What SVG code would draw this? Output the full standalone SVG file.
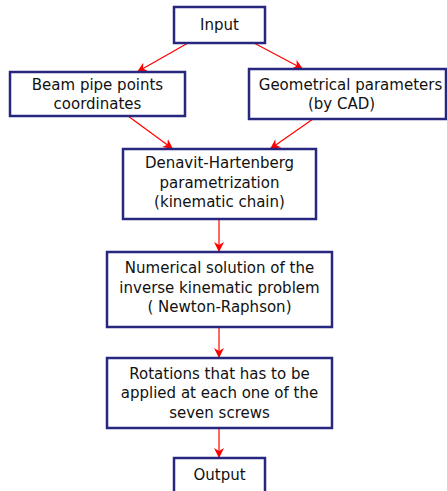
<svg xmlns="http://www.w3.org/2000/svg" width="447" height="491" viewBox="0 0 447 491">
<defs>
<style>
.box{fill:#fff;stroke:#27277f;stroke-width:2.5}
.t{font-family:"DejaVu Sans",Verdana,sans-serif;font-size:15px;fill:#111;text-anchor:middle}
.c{stroke:#ff0000;stroke-width:1.2;fill:none;marker-end:url(#ah)}
</style>
<marker id="ah" markerWidth="12" markerHeight="10" refX="10" refY="5" orient="auto" markerUnits="userSpaceOnUse">
<path d="M0,0 L10,5 L0,10 L3,5 Z" fill="#ff0000"/>
</marker>
</defs>
<rect width="447" height="491" fill="#fff"/>
<g id="connectors">
<line class="c" x1="188" y1="43" x2="137" y2="72"/>
<line class="c" x1="254" y1="43" x2="303" y2="69"/>
<line class="c" x1="128" y1="116" x2="173" y2="149"/>
<line class="c" x1="313" y1="119" x2="270" y2="149"/>
<line class="c" x1="219" y1="219" x2="219" y2="252"/>
<line class="c" x1="219" y1="327" x2="219" y2="358"/>
<line class="c" x1="219" y1="428" x2="219" y2="458"/>
</g>
<g id="input">
<rect class="box" x="174" y="7" width="91" height="36"/>
<text class="t" x="219.5" y="30">Input</text>
</g>
<g id="beam">
<rect class="box" x="10" y="72" width="175" height="44"/>
<text class="t" x="97.5" y="90">Beam pipe points</text>
<text class="t" x="97.5" y="109">coordinates</text>
</g>
<g id="geo">
<rect class="box" x="249" y="69" width="197" height="50"/>
<text class="t" x="350.5" y="90">Geometrical parameters</text>
<text class="t" x="341.5" y="109">(by CAD)</text>
</g>
<g id="dh">
<rect class="box" x="123" y="149" width="193" height="70"/>
<text class="t" x="219.5" y="168">Denavit-Hartenberg</text>
<text class="t" x="219.5" y="188">parametrization</text>
<text class="t" x="219.5" y="207">(kinematic chain)</text>
</g>
<g id="numerical">
<rect class="box" x="107" y="252" width="225" height="75"/>
<text class="t" x="219.5" y="273">Numerical solution of the</text>
<text class="t" x="219.5" y="293">inverse kinematic problem</text>
<text class="t" x="219.5" y="312">( Newton-Raphson)</text>
</g>
<g id="rotations">
<rect class="box" x="107" y="358" width="225" height="70"/>
<text class="t" x="219.5" y="379">Rotations that has to be</text>
<text class="t" x="219.5" y="398">applied at each one of the</text>
<text class="t" x="219.5" y="418">seven screws</text>
</g>
<g id="output">
<rect class="box" x="174" y="458" width="91" height="40"/>
<text class="t" x="219.5" y="480">Output</text>
</g>
</svg>
